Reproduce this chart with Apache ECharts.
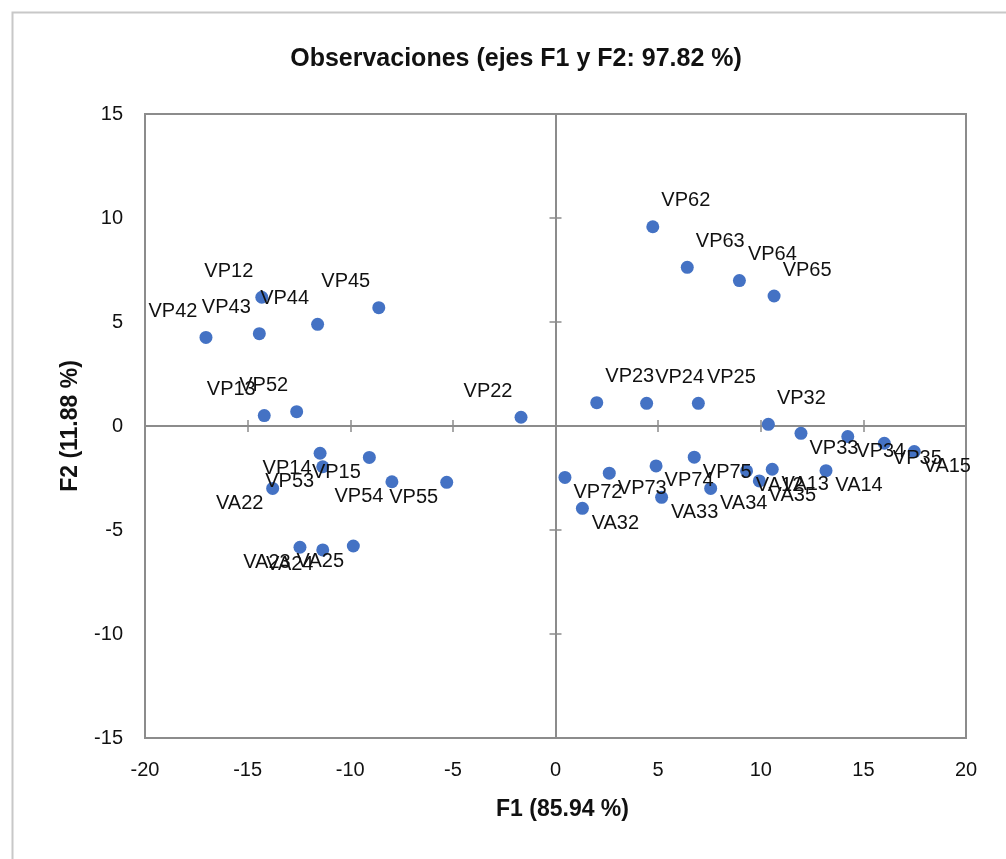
<!DOCTYPE html>
<html>
<head>
<meta charset="utf-8">
<script src="https://cdn.jsdelivr.net/npm/echarts@6/dist/echarts.min.js"></script>
<style>
  html, body { margin: 0; padding: 0; background: #fff; }
  #chart { width: 1006px; height: 859px; }
</style>
</head>
<body>
<div id="chart"></div>
<script>
// observation names and their coordinates on F1 / F2
const obsNames = [
  "VP42", "VP43", "VP12", "VP44", "VP45", "VP13", "VP52", "VP22",
  "VP14", "VP15", "VP53", "VA22", "VP54", "VP55", "VA23", "VA24", "VA25",
  "VP62", "VP63", "VP64", "VP65", "VP23", "VP24", "VP25", "VP32",
  "VP33", "VP34", "VP35", "VA15", "VP72", "VA32", "VP73", "VP74", "VA33",
  "VP75", "VA34", "VA12", "VA35", "VA13", "VA14"
];
const f1Values = [
  -17.03, -14.43, -14.31, -11.59, -8.61, -14.19, -12.61, -1.68,
  -11.47, -9.07, -11.34, -13.78, -7.97, -5.30, -12.45, -11.34, -9.85,
  4.74, 6.42, 8.96, 10.65, 2.01, 4.44, 6.96, 10.37,
  11.96, 14.24, 16.02, 17.48, 0.46, 1.31, 2.62, 4.90, 5.17,
  6.76, 7.56, 9.31, 9.93, 10.56, 13.18
];
const f2Values = [
  4.26, 4.44, 6.19, 4.89, 5.69, 0.50, 0.69, 0.42,
  -1.31, -1.51, -1.96, -3.00, -2.68, -2.71, -5.83, -5.96, -5.77,
  9.58, 7.63, 6.99, 6.25, 1.12, 1.09, 1.09, 0.08,
  -0.35, -0.51, -0.83, -1.23, -2.47, -3.96, -2.27, -1.92, -3.43,
  -1.50, -3.00, -2.16, -2.64, -2.08, -2.15
];
const f1Range = [-20, 20];
const f2Range = [-15, 15];

const axisGrey = "#8c8c8c";
const textColor = "#111";
const font = "Liberation Sans";

const chart = echarts.init(document.getElementById("chart"));

// labels sit above/below and left/right of the point, depending on its quadrant
const points = obsNames.map((name, i) => ({
  name: name,
  value: [f1Values[i], f2Values[i]],
  label: {
    offset: [f1Values[i] < 0 ? -33 : 33, f2Values[i] > 0 ? -26 : 15],
  },
}));

// axis drawn through zero, only its line and ticks
const zeroAxis = (range, inside) => ({
  type: "value",
  min: range[0],
  max: range[1],
  interval: 5,
  axisLine: { show: true, onZero: true, onZeroAxisIndex: 0, lineStyle: { color: axisGrey, width: 2 } },
  axisTick: { show: true, inside: inside, length: 6, lineStyle: { color: axisGrey, width: 1.5 } },
  axisLabel: { show: false },
  splitLine: { show: false },
});

chart.setOption({
  animation: false,
  backgroundColor: "#fff",
  title: {
    text: "Observaciones (ejes F1 y F2: 97.82 %)",
    top: 42,
    left: 511,
    textAlign: "center",
    textStyle: { fontFamily: font, fontSize: 25, fontWeight: "bold", color: textColor },
  },
  graphic: [
    {
      type: "rect",
      left: 10,
      top: 10,
      shape: { width: 1010, height: 870 },
      style: { fill: "none", stroke: "#c8c8c8", lineWidth: 2 },
      silent: true,
      z: -1,
    },
  ],
  grid: {
    left: 145,
    top: 114,
    width: 821,
    height: 624,
    show: true,
    borderColor: axisGrey,
    borderWidth: 2,
    backgroundColor: "#fff",
  },
  xAxis: [
    {
      type: "value",
      position: "bottom",
      min: f1Range[0],
      max: f1Range[1],
      interval: 5,
      name: "F1 (85.94 %)",
      nameLocation: "middle",
      nameGap: 60,
      nameTextStyle: { fontFamily: font, fontSize: 23, fontWeight: "bold", color: textColor, padding: [0, 0, 0, 14] },
      axisLine: { show: false, onZero: false },
      axisTick: { show: false },
      axisLabel: { fontFamily: font, fontSize: 20, color: textColor, margin: 22 },
      splitLine: { show: false },
    },
    zeroAxis(f1Range, false),
    zeroAxis(f1Range, true),
  ],
  yAxis: [
    {
      type: "value",
      position: "left",
      min: f2Range[0],
      max: f2Range[1],
      interval: 5,
      name: "F2 (11.88 %)",
      nameLocation: "middle",
      nameGap: 63,
      nameTextStyle: { fontFamily: font, fontSize: 23, fontWeight: "bold", color: textColor },
      axisLine: { show: false, onZero: false },
      axisTick: { show: false },
      axisLabel: { fontFamily: font, fontSize: 20, color: textColor, margin: 22 },
      splitLine: { show: false },
    },
    zeroAxis(f2Range, false),
    zeroAxis(f2Range, true),
  ],
  series: [
    {
      type: "scatter",
      xAxisIndex: 0,
      yAxisIndex: 0,
      symbol: "circle",
      symbolSize: 13,
      itemStyle: { color: "#4472C4", opacity: 1 },
      label: {
        show: true,
        position: "inside",
        formatter: "{b}",
        fontFamily: font,
        fontSize: 20,
        color: textColor,
        opacity: 1,
        textBorderWidth: 0,
      },
      data: points,
    },
  ],
});
</script>
</body>
</html>
